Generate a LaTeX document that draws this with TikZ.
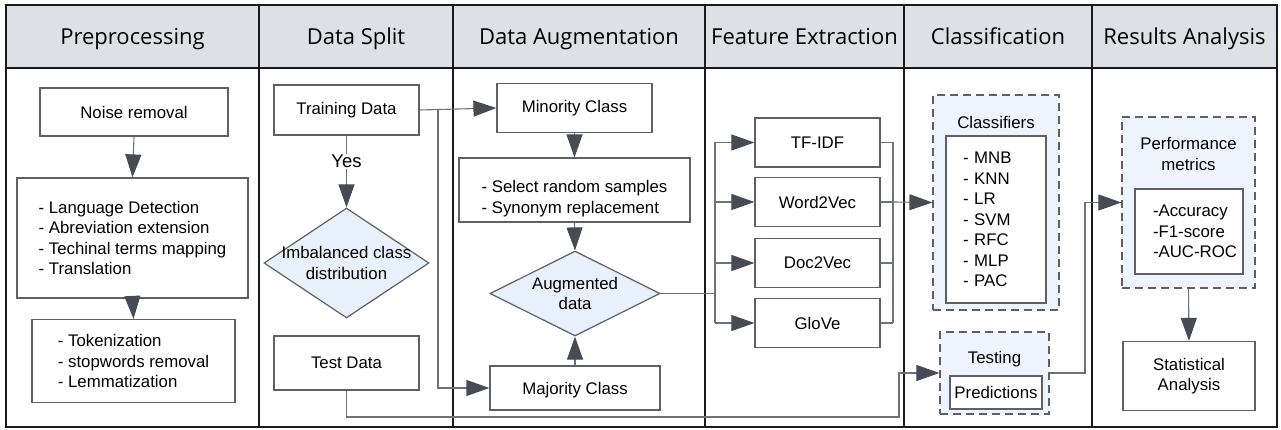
\documentclass[tikz,border=0pt]{standalone}
\usepackage{fontspec}
\setmainfont{Liberation Sans}
\newfontfamily\headfont{Open Sans}
\usetikzlibrary{shapes.geometric,arrows.meta}
\definecolor{laneink}{HTML}{1A1A1A}
\definecolor{headfill}{HTML}{DDE0E5}
\definecolor{boxink}{HTML}{5E6065}
\definecolor{wireink}{HTML}{6E7178}
\definecolor{tipink}{HTML}{474B53}
\definecolor{groupfill}{HTML}{EEF4FE}
\definecolor{decfill}{HTML}{E8F0FC}

\tikzset{
  lane/.style={draw=laneink, line width=1.5pt},
  header/.style={font=\headfont\fontsize{22}{26}\selectfont, text=black, anchor=base},
  procbox/.style={draw=boxink, line width=1.2pt, fill=white, inner sep=0pt, align=left},
  decision/.style={diamond, draw=boxink, line width=1.2pt, fill=decfill, inner sep=0pt},
  groupbox/.style={draw=boxink, line width=1.2pt, dash pattern=on 8pt off 5pt, fill=groupfill, inner sep=0pt},
  wire/.style={draw=wireink, line width=1.1pt},
  flow/.style={wire, -{Triangle[length=23pt,width=16pt,color=tipink,fill=tipink]}}
}

\begin{document}
\begin{tikzpicture}[
  x=1pt,
  y=-1pt,
  every node/.style={font=\fontsize{16.8}{20.5}\selectfont}
]
  \useasboundingbox (0,0) rectangle (1281,430);

  % lanes with their headers
  \foreach \xa/\xb/\lanetitle [count=\i] in {6/259/Preprocessing, 259/453/Data Split,
      453/705/Data Augmentation, 705/904/Feature Extraction,
      904/1092/Classification, 1092/1277/Results Analysis} {
    \fill[headfill] (\xa,5) rectangle (\xb,68);
    \draw[lane] (\xa,5) rectangle (\xb,427);
    \draw[lane] (\xa,68) -- (\xb,68);
    \node[header] (head\i) at ({(\xa+\xb)/2},45) {\lanetitle};
  }

  % Preprocessing
  \node[procbox, minimum width=188, minimum height=48] (noise) at (134,112) {Noise removal};
  \node[procbox, minimum width=231, minimum height=120] (langlist) at (132.5,238)
    {- Language Detection\\- Abreviation extension\\- Techinal terms mapping\\- Translation};
  \node[procbox, minimum width=203, minimum height=83] (toklist) at (133.5,361)
    {- Tokenization\\- stopwords removal\\- Lemmatization};
  \draw[flow] (noise.south) -- (langlist.north);
  \draw[flow] (langlist.south) -- (toklist.north);

  % Data Split
  \node[procbox, minimum width=145, minimum height=50] (train) at (346.5,110) {Training Data};
  \node[decision, minimum width=165, minimum height=110,
    label={[align=center, font=\fontsize{16.8}{20.5}\selectfont]center:Imbalanced class\\distribution}]
    (imbal) at (346.5,263) {};
  \node[procbox, minimum width=145, minimum height=54] (test) at (346.5,363) {Test Data};
  \draw[flow] (train.south) -- node[pos=0.36, fill=white, inner sep=1pt,
    font=\fontsize{18.5}{20}\selectfont] (yes) {Yes} (imbal.north);
  \coordinate (splitbus) at (438,0);
  \coordinate (testbend) at (899,417);

  % Data Augmentation
  \node[procbox, minimum width=155, minimum height=49] (minority) at (574.5,108) {Minority Class};
  \node[procbox, minimum width=231, minimum height=64, text height=47, text depth=0pt] (augsel) at (574.5,190)
    {- Select random samples\\- Synonym replacement};
  \node[decision, minimum width=170, minimum height=85,
    label={[align=center, font=\fontsize{16.8}{20.5}\selectfont]center:Augmented\\data}]
    (augdata) at (575,293.5) {};
  \node[procbox, minimum width=170, minimum height=44, text depth=0pt] (majority) at (575,388) {Majority Class};
  \draw[flow] (train.east) -- (minority.west);
  \draw[flow] (train.east -| splitbus) |- (majority.west);
  \draw[flow] (minority.south) -- (augsel.north);
  \draw[flow] (augsel.south) -- (augdata.north);
  \draw[flow] (majority.north) -- (augdata.south);

  % Feature Extraction
  \node[procbox, minimum width=125, minimum height=49] (tfidf) at (817.5,142.5) {TF-IDF};
  \node[procbox, minimum width=125, minimum height=49] (word2vec) at (817.5,202) {Word2Vec};
  \node[procbox, minimum width=125, minimum height=49] (doc2vec) at (817.5,263) {Doc2Vec};
  \node[procbox, minimum width=125, minimum height=49] (glove) at (817.5,323) {GloVe};
  \coordinate (augbus) at (715,0);
  \coordinate (featbus) at (893,0);
  \draw[wire] (augdata.east) -- (augdata.east -| augbus);
  \draw[wire] (tfidf.west -| augbus) -- (glove.west -| augbus);
  \foreach \emb in {tfidf, word2vec, doc2vec, glove} {
    \draw[flow] (\emb.west -| augbus) -- (\emb.west);
    \draw[wire] (\emb.east) -- (\emb.east -| featbus);
  }
  \draw[wire] (tfidf.east -| featbus) -- (glove.east -| featbus);

  % Classification
  \node[groupbox, minimum width=126, minimum height=215] (classifiers) at (996,202.5) {};
  \node (clftitle) at (996,122) {Classifiers};
  \node[procbox, minimum width=100, minimum height=167, text width=66] (clflist) at (996,219.5)
    {- MNB\\- KNN\\- LR\\- SVM\\- RFC\\- MLP\\- PAC};
  \node[groupbox, minimum width=109, minimum height=82] (testing) at (994.5,373) {};
  \node (testtitle) at (994.5,359) {Testing};
  \node[procbox, minimum width=92, minimum height=33] (predict) at (996,392.5) {Predictions};
  \draw[flow] (word2vec.east -| featbus) -- (classifiers.west);
  \draw[flow] (test.south) |- (testbend) |- (testing.west);

  % Results Analysis
  \node[groupbox, minimum width=133, minimum height=171] (perf) at (1188.5,202.5) {};
  \node[align=center] (perftitle) at (1188.5,154) {Performance\\metrics};
  \node[procbox, minimum width=108, minimum height=85] (perflist) at (1189,231.5)
    {\hspace*{12pt}-Accuracy\\\hspace*{12pt}-F1-score\\\hspace*{12pt}-AUC-ROC};
  \node[procbox, align=center, minimum width=132, minimum height=69] (stat) at (1189,376)
    {Statistical\\Analysis};
  \coordinate (resbus) at (1085,0);
  \draw[flow] (testing.east) -- (testing.east -| resbus) |- (perf.west);
  \draw[flow] (perf.south) -- (stat.north);
\end{tikzpicture}
\end{document}
